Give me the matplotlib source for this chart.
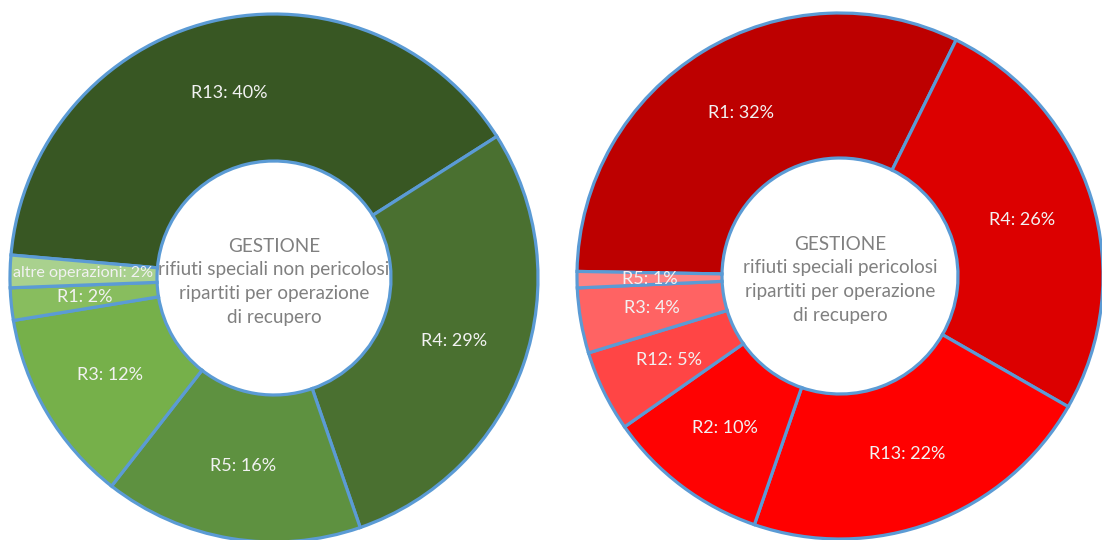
import numpy as np
import matplotlib
matplotlib.use("Agg")
import matplotlib.pyplot as plt

plt.rcParams['font.family'] = ['Lato', 'DejaVu Sans']

# left donut: non-hazardous special waste, clockwise order
left_labels = ["R13", "R4", "R5", "R3", "R1", "altre operazioni"]
left_values = [40, 29, 16, 12, 2, 2]
left_colors = ["#385723", "#4a7030", "#5e9140", "#76b04a", "#88bd5e", "#a9d18e"]
left_title = "GESTIONE\nrifiuti speciali non pericolosi\nripartiti per operazione\ndi recupero"

# right donut: hazardous special waste, clockwise order
right_labels = ["R1", "R4", "R13", "R2", "R12", "R3", "R5"]
right_values = [32, 26, 22, 10, 5, 4, 1]
right_colors = ["#bd0000", "#dc0000", "#ff0000", "#ff0202", "#ff4545", "#ff6363", "#ff8383"]
right_title = "GESTIONE\nrifiuti speciali pericolosi\nripartiti per operazione\ndi recupero"

EDGE = "#5b9bd5"
W, H = 1102, 540

fig = plt.figure(figsize=(W / 100, H / 100), dpi=100)
ax = fig.add_axes([0, 0, 1, 1])


def donut(values, labels, colors, title, center, radius, hole, start):
    wedges, _ = ax.pie(values, colors=colors, center=center, radius=radius,
                       startangle=start, counterclock=False,
                       wedgeprops=dict(width=radius - hole, edgecolor=EDGE, linewidth=2.3),
                       frame=True)
    rmid = (radius + hole) / 2
    for w, lab, v in zip(wedges, labels, values):
        ang = np.deg2rad((w.theta1 + w.theta2) / 2)
        x = center[0] + rmid * np.cos(ang)
        y = center[1] + rmid * np.sin(ang)
        # long label has to fit inside the thin slice
        fs = 11.6 if len(lab) > 6 else 13
        ax.text(x, y, f"{lab}: {v}%", ha="center", va="center",
                color="#f2f2f2", fontsize=fs)
    ax.text(center[0], center[1] - 4, title, ha="center", va="center",
            color="#808080", fontsize=13.6, linespacing=1.5)


donut(left_values, left_labels, left_colors, left_title,
      (274, H - 278), 264, 117, 175)
donut(right_values, right_labels, right_colors, right_title,
      (840, H - 276), 263, 118, 179)

ax.set_xlim(0, W)
ax.set_ylim(0, H)
ax.set_aspect("equal")
ax.axis("off")

fig.savefig("out.png", dpi=100)
